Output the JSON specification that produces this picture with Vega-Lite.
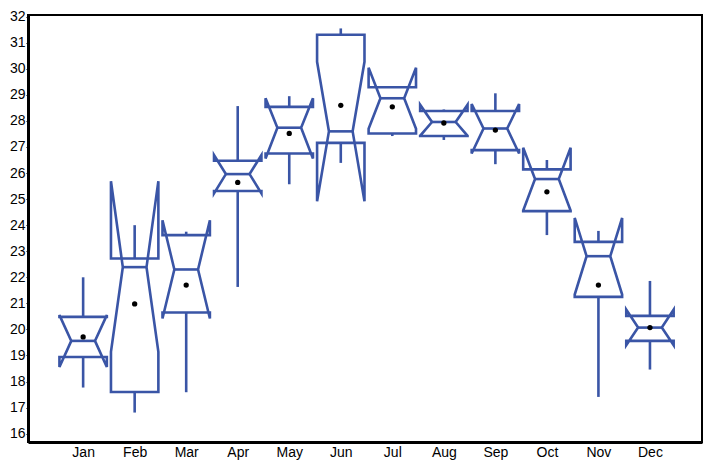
{
  "$schema": "https://vega.github.io/schema/vega-lite/v6.json",
  "width": 674,
  "height": 427,
  "autosize": {"type": "none"},
  "padding": {"left": 28, "top": 15, "right": 4, "bottom": 22},
  "background": "white",
  "config": {
    "view": {"stroke": "black", "strokeWidth": 2},
    "axis": {"domainColor": "black", "domainWidth": 3, "labelFont": "Liberation Sans", "labelFontSize": 14, "labelColor": "black", "grid": false, "tickColor": "black", "title": null, "labelOverlap": false, "labelFlush": false},
    "axisY": {"values": [16,17,18,19,20,21,22,23,24,25,26,27,28,29,30,31,32], "tickSize": 2, "labelPadding": 1, "tickCount": 17},
    "axisX": {"values": [1,2,3,4,5,6,7,8,9,10,11,12], "ticks": false, "labelPadding": 3}
  },
  "data": {
    "values": [
      {"month": "Jan", "idx": 1, "q1": 18.94, "q3": 20.48, "med": 19.56, "nlo": 18.56, "nhi": 20.55, "wlo": 17.77, "whi": 22.0, "mean": 19.71},
      {"month": "Feb", "idx": 2, "q1": 17.60, "q3": 22.72, "med": 22.39, "nlo": 19.14, "nhi": 25.69, "wlo": 16.81, "whi": 24.0, "mean": 20.98},
      {"month": "Mar", "idx": 3, "q1": 20.65, "q3": 23.62, "med": 22.30, "nlo": 20.42, "nhi": 24.19, "wlo": 17.59, "whi": 23.75, "mean": 21.70},
      {"month": "Apr", "idx": 4, "q1": 25.31, "q3": 26.47, "med": 25.96, "nlo": 25.22, "nhi": 26.69, "wlo": 21.63, "whi": 28.57, "mean": 25.64},
      {"month": "May", "idx": 5, "q1": 26.75, "q3": 28.54, "med": 27.74, "nlo": 26.56, "nhi": 28.87, "wlo": 25.57, "whi": 28.95, "mean": 27.52},
      {"month": "Jun", "idx": 6, "q1": 27.16, "q3": 31.31, "med": 27.60, "nlo": 24.92, "nhi": 30.27, "wlo": 26.39, "whi": 31.55, "mean": 28.60},
      {"month": "Jul", "idx": 7, "q1": 27.52, "q3": 29.29, "med": 28.87, "nlo": 27.70, "nhi": 30.04, "wlo": 27.42, "whi": 29.34, "mean": 28.54},
      {"month": "Aug", "idx": 8, "q1": 27.42, "q3": 28.38, "med": 27.96, "nlo": 27.43, "nhi": 28.62, "wlo": 27.27, "whi": 28.44, "mean": 27.92},
      {"month": "Sep", "idx": 9, "q1": 26.88, "q3": 28.38, "med": 27.71, "nlo": 26.75, "nhi": 28.65, "wlo": 26.34, "whi": 29.06, "mean": 27.65},
      {"month": "Oct", "idx": 10, "q1": 24.54, "q3": 26.14, "med": 25.77, "nlo": 24.56, "nhi": 26.97, "wlo": 23.62, "whi": 26.50, "mean": 25.28},
      {"month": "Nov", "idx": 11, "q1": 21.25, "q3": 23.36, "med": 22.81, "nlo": 21.34, "nhi": 24.28, "wlo": 17.41, "whi": 23.78, "mean": 21.70},
      {"month": "Dec", "idx": 12, "q1": 19.56, "q3": 20.52, "med": 20.07, "nlo": 19.39, "nhi": 20.76, "wlo": 18.46, "whi": 21.86, "mean": 20.07}
    ]
  },
  "layer": [
    {
      "transform": [
        {"calculate": "[['q1',-1,0],['q1',1,1],['nlo',1,2],['med',0.5,3],['nhi',1,4],['q3',1,5],['q3',-1,6],['nhi',-1,7],['med',-0.5,8],['nlo',-1,9],['q1',-1,10]]", "as": "path"},
        {"flatten": ["path"]},
        {"calculate": "datum[datum.path[0]]", "as": "py"},
        {"calculate": "datum.idx + 0.46 * datum.path[1]", "as": "px"},
        {"calculate": "datum.path[2]", "as": "po"}
      ],
      "mark": {"type": "line", "color": "#3a55a6", "strokeWidth": 2.6, "strokeJoin": "miter", "strokeCap": "square"},
      "encoding": {
        "x": {"field": "px", "type": "quantitative", "scale": {"domain": [-0.07, 13.01], "nice": false, "zero": false},
              "axis": {"values": [1,2,3,4,5,6,7,8,9,10,11,12], "labelExpr": "['Jan','Feb','Mar','Apr','May','Jun','Jul','Aug','Sep','Oct','Nov','Dec'][datum.value-1]"}},
        "y": {"field": "py", "type": "quantitative", "scale": {"domain": [15.68, 32.065], "nice": false, "zero": false},
              "axis": {"values": [16,17,18,19,20,21,22,23,24,25,26,27,28,29,30,31,32]}},
        "detail": {"field": "month"},
        "order": {"field": "po", "type": "quantitative"}
      }
    },
    {
      "mark": {"type": "rule", "color": "#3a55a6", "strokeWidth": 2.6},
      "encoding": {
        "x": {"field": "idx", "type": "quantitative"},
        "y": {"field": "q3", "type": "quantitative", "axis": {"values": [16,17,18,19,20,21,22,23,24,25,26,27,28,29,30,31,32]}},
        "y2": {"field": "whi"}
      }
    },
    {
      "mark": {"type": "rule", "color": "#3a55a6", "strokeWidth": 2.6},
      "encoding": {
        "x": {"field": "idx", "type": "quantitative"},
        "y": {"field": "q1", "type": "quantitative", "axis": {"values": [16,17,18,19,20,21,22,23,24,25,26,27,28,29,30,31,32]}},
        "y2": {"field": "wlo"}
      }
    },
    {
      "transform": [
        {"calculate": "datum.idx - 0.23", "as": "mlo"},
        {"calculate": "datum.idx + 0.23", "as": "mhi"}
      ],
      "mark": {"type": "rule", "color": "#3a55a6", "strokeWidth": 2.6},
      "encoding": {
        "x": {"field": "mlo", "type": "quantitative"},
        "x2": {"field": "mhi"},
        "y": {"field": "med", "type": "quantitative", "axis": {"values": [16,17,18,19,20,21,22,23,24,25,26,27,28,29,30,31,32]}}
      }
    },
    {
      "mark": {"type": "point", "filled": true, "color": "black", "opacity": 1, "size": 28},
      "encoding": {
        "x": {"field": "idx", "type": "quantitative"},
        "y": {"field": "mean", "type": "quantitative", "axis": {"values": [16,17,18,19,20,21,22,23,24,25,26,27,28,29,30,31,32]}}
      }
    }
  ]
}
